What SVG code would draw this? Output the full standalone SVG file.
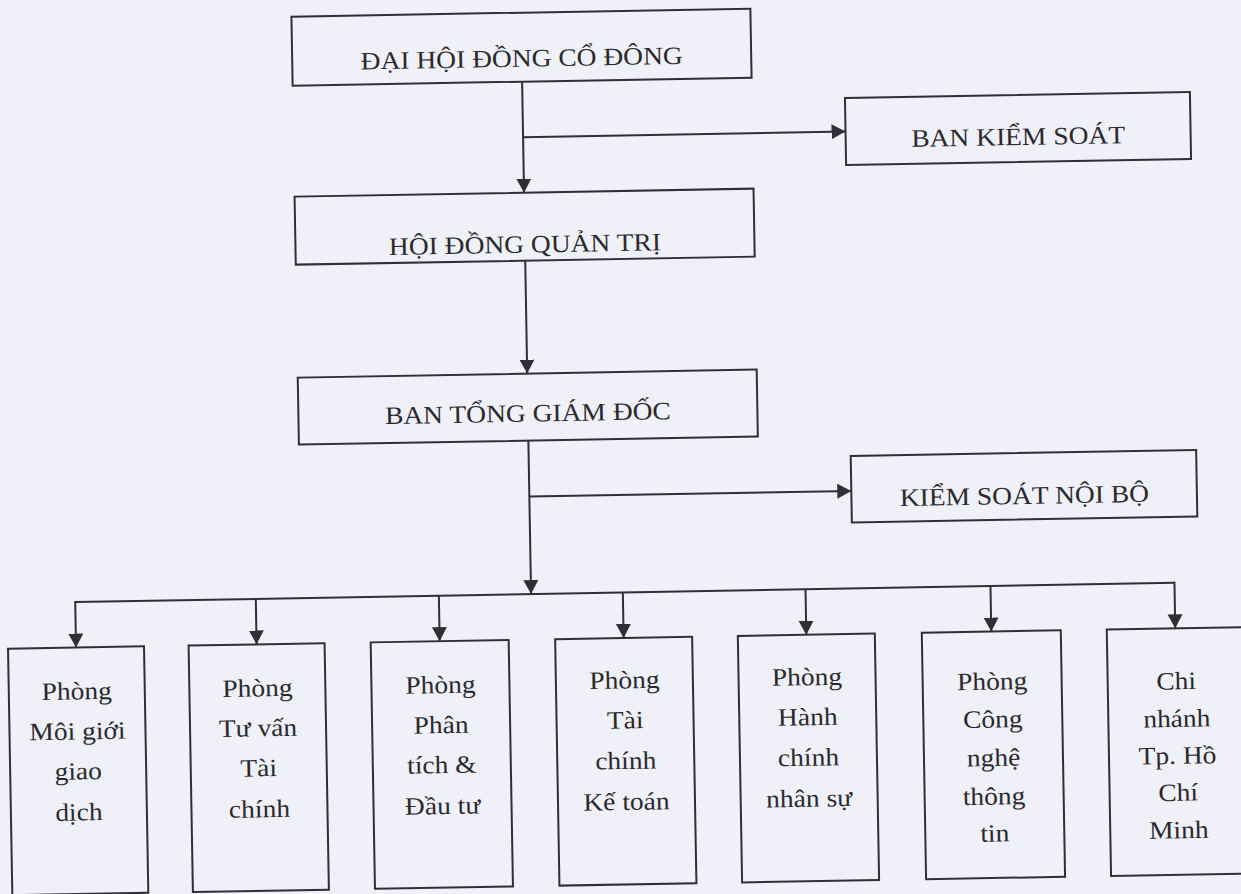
<svg xmlns="http://www.w3.org/2000/svg" width="1241" height="894" viewBox="0 0 1241 894">
<style>
.box{fill:none;stroke:#2f2f35;stroke-width:2}
.ln{fill:none;stroke:#2f2f35;stroke-width:2}
.t{font-family:"Liberation Serif","Times New Roman",serif;font-size:25px;fill:#2a2a2e;text-anchor:middle}
</style>
<defs>
<marker id="ah" markerUnits="userSpaceOnUse" markerWidth="16" markerHeight="16" refX="14" refY="7.5" orient="auto">
<path d="M0,0 L14,7.5 L0,15 Z" fill="#2f2f35"/>
</marker>
</defs>
<rect width="1241" height="894" fill="#eff0f8"/>
<g transform="rotate(-1 620 447)">
<g id="connectors">
<line class="ln" x1="528.5" y1="80" x2="528.5" y2="191" marker-end="url(#ah)"/>
<line class="ln" x1="528.5" y1="135.5" x2="851" y2="135.5" marker-end="url(#ah)"/>
<line class="ln" x1="528.5" y1="259" x2="528.5" y2="372" marker-end="url(#ah)"/>
<line class="ln" x1="528.5" y1="439" x2="528.5" y2="592.5" marker-end="url(#ah)"/>
<line class="ln" x1="528.5" y1="495" x2="850.5" y2="495" marker-end="url(#ah)"/>
<line class="ln" x1="72.6" y1="592.5" x2="1172" y2="592.5"/>
<line class="ln" x1="72.6" y1="591.5" x2="72.6" y2="638" marker-end="url(#ah)"/>
<line class="ln" x1="253.2" y1="592.5" x2="253.2" y2="638" marker-end="url(#ah)"/>
<line class="ln" x1="436.3" y1="592.5" x2="436.3" y2="638" marker-end="url(#ah)"/>
<line class="ln" x1="620.3" y1="592.5" x2="620.3" y2="638" marker-end="url(#ah)"/>
<line class="ln" x1="803" y1="592.5" x2="803" y2="638" marker-end="url(#ah)"/>
<line class="ln" x1="988" y1="592.5" x2="988" y2="638" marker-end="url(#ah)"/>
<line class="ln" x1="1172" y1="591.5" x2="1172" y2="638" marker-end="url(#ah)"/>
</g>
<g id="dhdcd">
<rect class="box" x="299" y="11" width="459" height="69"/>
<text class="t" transform="translate(528.5 0) scale(1.1 1)" x="0" y="65">ĐẠI HỘI ĐỒNG CỔ ĐÔNG</text>
</g>
<g id="bks">
<rect class="box" x="851" y="102" width="345" height="67"/>
<text class="t" transform="translate(1023.5 0) scale(1.1 1)" x="0" y="152">BAN KIỂM SOÁT</text>
</g>
<g id="hdqt">
<rect class="box" x="299" y="191" width="459" height="68"/>
<text class="t" transform="translate(528.5 0) scale(1.1 1)" x="0" y="251">HỘI ĐỒNG QUẢN TRỊ</text>
</g>
<g id="btgd">
<rect class="box" x="299" y="372" width="459" height="67"/>
<text class="t" transform="translate(528.5 0) scale(1.1 1)" x="0" y="420">BAN TỔNG GIÁM ĐỐC</text>
</g>
<g id="ksnb">
<rect class="box" x="850.5" y="460" width="345.5" height="66.5"/>
<text class="t" transform="translate(1023.5 0) scale(1.1 1)" x="0" y="511">KIỂM SOÁT NỘI BỘ</text>
</g>
<g id="p1">
<rect class="box" x="4.6" y="638" width="136" height="246.5"/>
<text class="t" transform="translate(72.6 0) scale(1.1 1)"><tspan x="0" y="690">Phòng</tspan><tspan x="0" y="730">Môi giới</tspan><tspan x="0" y="770">giao</tspan><tspan x="0" y="811">dịch</tspan></text>
</g>
<g id="p2">
<rect class="box" x="185.2" y="638" width="136" height="246.5"/>
<text class="t" transform="translate(253.2 0) scale(1.1 1)"><tspan x="0" y="690">Phòng</tspan><tspan x="0" y="730">Tư vấn</tspan><tspan x="0" y="770">Tài</tspan><tspan x="0" y="811">chính</tspan></text>
</g>
<g id="p3">
<rect class="box" x="367.3" y="638" width="138" height="246.5"/>
<text class="t" transform="translate(436.3 0) scale(1.1 1)"><tspan x="0" y="690">Phòng</tspan><tspan x="0" y="730">Phân</tspan><tspan x="0" y="770">tích &amp;</tspan><tspan x="0" y="811">Đầu tư</tspan></text>
</g>
<g id="p4">
<rect class="box" x="551.8" y="638" width="137" height="246.5"/>
<text class="t" transform="translate(620.3 0) scale(1.1 1)"><tspan x="0" y="688.5">Phòng</tspan><tspan x="0" y="728.5">Tài</tspan><tspan x="0" y="769">chính</tspan><tspan x="0" y="810">Kế toán</tspan></text>
</g>
<g id="p5">
<rect class="box" x="734.5" y="638" width="137" height="246.5"/>
<text class="t" transform="translate(803 0) scale(1.1 1)"><tspan x="0" y="688.5">Phòng</tspan><tspan x="0" y="728.5">Hành</tspan><tspan x="0" y="769">chính</tspan><tspan x="0" y="810">nhân sự</tspan></text>
</g>
<g id="p6">
<rect class="box" x="918.5" y="638" width="139" height="246.5"/>
<text class="t" transform="translate(988 0) scale(1.1 1)"><tspan x="0" y="696">Phòng</tspan><tspan x="0" y="734">Công</tspan><tspan x="0" y="772.5">nghệ</tspan><tspan x="0" y="811">thông</tspan><tspan x="0" y="848">tin</tspan></text>
</g>
<g id="cn">
<rect class="box" x="1103.5" y="638" width="137" height="246.5"/>
<text class="t" transform="translate(1172 0) scale(1.1 1)"><tspan x="0" y="699">Chi</tspan><tspan x="0" y="736.5">nhánh</tspan><tspan x="0" y="773.5">Tp. Hồ</tspan><tspan x="0" y="810.5">Chí</tspan><tspan x="0" y="848">Minh</tspan></text>
</g>
</g>
</svg>
